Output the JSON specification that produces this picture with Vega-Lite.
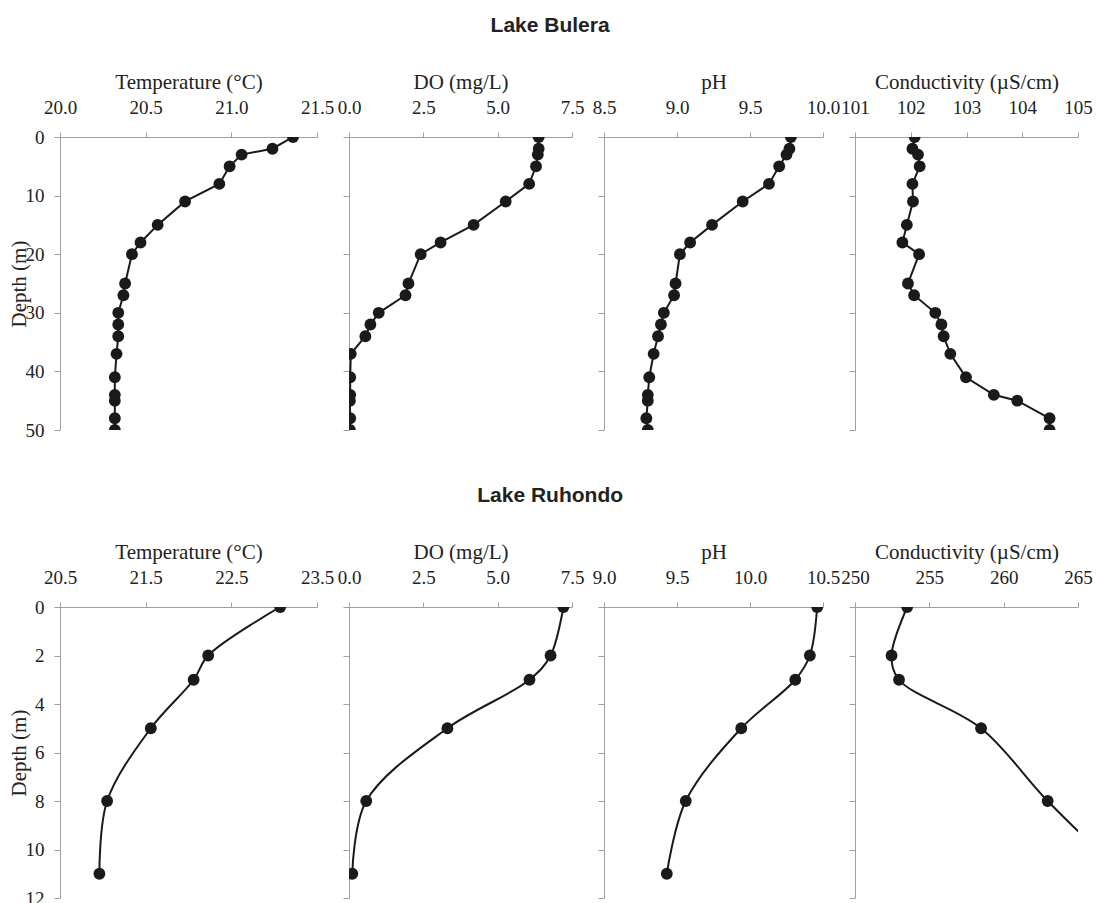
{
  "$schema": "https://vega.github.io/schema/vega-lite/v6.json",
  "background": "white",
  "padding": {"left": 8, "top": 15, "right": 5, "bottom": 5},
  "config": {
    "view": {"stroke": null},
    "font": "Liberation Serif",
    "style": {
      "guide-label": {"font": "Liberation Serif", "fontSize": 19, "fill": "#222222"},
      "guide-title": {"font": "Liberation Serif", "fontSize": 21, "fontWeight": "normal", "fill": "#222222"}
    },
    "axis": {
      "grid": false,
      "domainColor": "#a0a0a0",
      "tickColor": "#a0a0a0",
      "domainWidth": 1,
      "tickWidth": 1,
      "labelFont": "Liberation Serif",
      "labelFontSize": 19,
      "labelColor": "#222222",
      "labelFlush": false,
      "labelOverlap": false,
      "titleFont": "Liberation Serif",
      "titleFontSize": 21,
      "titleFontWeight": "normal",
      "titleColor": "#222222"
    },
    "axisX": {"tickSize": 5, "labelPadding": 15, "titlePadding": 6, "labelFont": "Liberation Serif", "labelFontSize": 19},
    "axisY": {"tickSize": 6, "labelPadding": 10, "titlePadding": -4, "labelFont": "Liberation Serif", "labelFontSize": 19},
    "title": {"font": "Liberation Sans", "fontSize": 21, "fontWeight": "bold", "color": "#222222", "anchor": "middle"}
  },
  "datasets": {
    "bulera": [
      {"depth": 0, "temp": 21.36, "do": 6.38, "ph": 9.78, "cond": 102.07},
      {"depth": 2, "temp": 21.24, "do": 6.38, "ph": 9.77, "cond": 102.03},
      {"depth": 3, "temp": 21.06, "do": 6.35, "ph": 9.75, "cond": 102.13},
      {"depth": 5, "temp": 20.99, "do": 6.29, "ph": 9.70, "cond": 102.16},
      {"depth": 8, "temp": 20.93, "do": 6.06, "ph": 9.63, "cond": 102.03},
      {"depth": 11, "temp": 20.73, "do": 5.27, "ph": 9.45, "cond": 102.04},
      {"depth": 15, "temp": 20.57, "do": 4.19, "ph": 9.24, "cond": 101.93},
      {"depth": 18, "temp": 20.47, "do": 3.08, "ph": 9.09, "cond": 101.85},
      {"depth": 20, "temp": 20.42, "do": 2.41, "ph": 9.02, "cond": 102.15},
      {"depth": 25, "temp": 20.38, "do": 2.00, "ph": 8.99, "cond": 101.95},
      {"depth": 27, "temp": 20.37, "do": 1.90, "ph": 8.98, "cond": 102.06},
      {"depth": 30, "temp": 20.34, "do": 1.00, "ph": 8.91, "cond": 102.44},
      {"depth": 32, "temp": 20.34, "do": 0.72, "ph": 8.89, "cond": 102.55},
      {"depth": 34, "temp": 20.34, "do": 0.55, "ph": 8.87, "cond": 102.59},
      {"depth": 37, "temp": 20.33, "do": 0.06, "ph": 8.84, "cond": 102.71},
      {"depth": 41, "temp": 20.32, "do": 0.04, "ph": 8.81, "cond": 102.99},
      {"depth": 44, "temp": 20.32, "do": 0.04, "ph": 8.80, "cond": 103.49},
      {"depth": 45, "temp": 20.32, "do": 0.03, "ph": 8.80, "cond": 103.91},
      {"depth": 48, "temp": 20.32, "do": 0.04, "ph": 8.79, "cond": 104.49},
      {"depth": 50, "temp": 20.32, "do": 0.03, "ph": 8.80, "cond": 104.49}
    ],
    "ruhondo": [
      {"depth": 0, "temp": 23.07, "do": 7.21, "ph": 10.46, "cond": 253.51},
      {"depth": 2, "temp": 22.23, "do": 6.78, "ph": 10.41, "cond": 252.46},
      {"depth": 3, "temp": 22.06, "do": 6.07, "ph": 10.31, "cond": 252.96},
      {"depth": 5, "temp": 21.56, "do": 3.31, "ph": 9.94, "cond": 258.48},
      {"depth": 8, "temp": 21.05, "do": 0.58, "ph": 9.56, "cond": 262.96},
      {"depth": 11, "temp": 20.96, "do": 0.11, "ph": 9.43, "cond": 268.0}
    ]
  },
  "spacing": 45,
  "vconcat": [
    {
      "title": {"text": "Lake Bulera", "offset": 35},
      "spacing": 32,
      "bounds": "flush",
      "hconcat": [
        {
          "width": 257, "height": 293,
          "data": {"name": "bulera"},
          "encoding": {
            "x": {"field": "temp", "type": "quantitative", "scale": {"domain": [20, 21.5], "nice": false, "zero": false}, "axis": {"orient": "top", "title": "Temperature (°C)", "values": [20, 20.5, 21, 21.5], "format": ".1f"}},
            "y": {"field": "depth", "type": "quantitative", "scale": {"domain": [0, 50], "reverse": true, "nice": false}, "axis": {"values": [0, 10, 20, 30, 40, 50], "title": "Depth (m)"}}
          },
          "layer": [
            {"mark": {"type": "line", "color": "#1a1a1a", "strokeWidth": 2, "clip": true}, "encoding": {"order": {"field": "depth", "type": "quantitative"}}},
            {"mark": {"type": "point", "filled": true, "size": 140, "color": "#1a1a1a", "opacity": 1, "clip": true}}
          ]
        },
        {
          "width": 223, "height": 293,
          "data": {"name": "bulera"},
          "encoding": {
            "x": {"field": "do", "type": "quantitative", "scale": {"domain": [0, 7.5], "nice": false, "zero": false}, "axis": {"orient": "top", "title": "DO (mg/L)", "values": [0, 2.5, 5, 7.5], "format": ".1f"}},
            "y": {"field": "depth", "type": "quantitative", "scale": {"domain": [0, 50], "reverse": true, "nice": false}, "axis": {"values": [0, 10, 20, 30, 40, 50], "labels": false, "title": null}}
          },
          "layer": [
            {"mark": {"type": "line", "color": "#1a1a1a", "strokeWidth": 2, "clip": true}, "encoding": {"order": {"field": "depth", "type": "quantitative"}}},
            {"mark": {"type": "point", "filled": true, "size": 140, "color": "#1a1a1a", "opacity": 1, "clip": true}}
          ]
        },
        {
          "width": 219, "height": 293,
          "data": {"name": "bulera"},
          "encoding": {
            "x": {"field": "ph", "type": "quantitative", "scale": {"domain": [8.5, 10], "nice": false, "zero": false}, "axis": {"orient": "top", "title": "pH", "values": [8.5, 9, 9.5, 10], "format": ".1f"}},
            "y": {"field": "depth", "type": "quantitative", "scale": {"domain": [0, 50], "reverse": true, "nice": false}, "axis": {"values": [0, 10, 20, 30, 40, 50], "labels": false, "title": null}}
          },
          "layer": [
            {"mark": {"type": "line", "color": "#1a1a1a", "strokeWidth": 2, "clip": true}, "encoding": {"order": {"field": "depth", "type": "quantitative"}}},
            {"mark": {"type": "point", "filled": true, "size": 140, "color": "#1a1a1a", "opacity": 1, "clip": true}}
          ]
        },
        {
          "width": 223, "height": 293,
          "data": {"name": "bulera"},
          "encoding": {
            "x": {"field": "cond", "type": "quantitative", "scale": {"domain": [101, 105], "nice": false, "zero": false}, "axis": {"orient": "top", "title": "Conductivity (µS/cm)", "values": [101, 102, 103, 104, 105], "format": "d"}},
            "y": {"field": "depth", "type": "quantitative", "scale": {"domain": [0, 50], "reverse": true, "nice": false}, "axis": {"values": [0, 10, 20, 30, 40, 50], "labels": false, "title": null}}
          },
          "layer": [
            {"mark": {"type": "line", "color": "#1a1a1a", "strokeWidth": 2, "clip": true}, "encoding": {"order": {"field": "depth", "type": "quantitative"}}},
            {"mark": {"type": "point", "filled": true, "size": 140, "color": "#1a1a1a", "opacity": 1, "clip": true}}
          ]
        }
      ]
    },
    {
      "title": {"text": "Lake Ruhondo", "offset": 35},
      "spacing": 32,
      "bounds": "flush",
      "hconcat": [
        {
          "width": 257, "height": 291,
          "data": {"name": "ruhondo"},
          "encoding": {
            "x": {"field": "temp", "type": "quantitative", "scale": {"domain": [20.5, 23.5], "nice": false, "zero": false}, "axis": {"orient": "top", "title": "Temperature (°C)", "values": [20.5, 21.5, 22.5, 23.5], "format": ".1f"}},
            "y": {"field": "depth", "type": "quantitative", "scale": {"domain": [0, 12], "reverse": true, "nice": false}, "axis": {"values": [0, 2, 4, 6, 8, 10, 12], "title": "Depth (m)"}}
          },
          "layer": [
            {"mark": {"type": "line", "color": "#1a1a1a", "strokeWidth": 2, "interpolate": "catmull-rom", "clip": true}, "encoding": {"order": {"field": "depth", "type": "quantitative"}}},
            {"mark": {"type": "point", "filled": true, "size": 140, "color": "#1a1a1a", "opacity": 1, "clip": true}}
          ]
        },
        {
          "width": 223, "height": 291,
          "data": {"name": "ruhondo"},
          "encoding": {
            "x": {"field": "do", "type": "quantitative", "scale": {"domain": [0, 7.5], "nice": false, "zero": false}, "axis": {"orient": "top", "title": "DO (mg/L)", "values": [0, 2.5, 5, 7.5], "format": ".1f"}},
            "y": {"field": "depth", "type": "quantitative", "scale": {"domain": [0, 12], "reverse": true, "nice": false}, "axis": {"values": [0, 2, 4, 6, 8, 10, 12], "labels": false, "title": null}}
          },
          "layer": [
            {"mark": {"type": "line", "color": "#1a1a1a", "strokeWidth": 2, "interpolate": "catmull-rom", "clip": true}, "encoding": {"order": {"field": "depth", "type": "quantitative"}}},
            {"mark": {"type": "point", "filled": true, "size": 140, "color": "#1a1a1a", "opacity": 1, "clip": true}}
          ]
        },
        {
          "width": 219, "height": 291,
          "data": {"name": "ruhondo"},
          "encoding": {
            "x": {"field": "ph", "type": "quantitative", "scale": {"domain": [9, 10.5], "nice": false, "zero": false}, "axis": {"orient": "top", "title": "pH", "values": [9, 9.5, 10, 10.5], "format": ".1f"}},
            "y": {"field": "depth", "type": "quantitative", "scale": {"domain": [0, 12], "reverse": true, "nice": false}, "axis": {"values": [0, 2, 4, 6, 8, 10, 12], "labels": false, "title": null}}
          },
          "layer": [
            {"mark": {"type": "line", "color": "#1a1a1a", "strokeWidth": 2, "interpolate": "catmull-rom", "clip": true}, "encoding": {"order": {"field": "depth", "type": "quantitative"}}},
            {"mark": {"type": "point", "filled": true, "size": 140, "color": "#1a1a1a", "opacity": 1, "clip": true}}
          ]
        },
        {
          "width": 223, "height": 291,
          "data": {"name": "ruhondo"},
          "encoding": {
            "x": {"field": "cond", "type": "quantitative", "scale": {"domain": [250, 265], "nice": false, "zero": false}, "axis": {"orient": "top", "title": "Conductivity (µS/cm)", "values": [250, 255, 260, 265], "format": "d"}},
            "y": {"field": "depth", "type": "quantitative", "scale": {"domain": [0, 12], "reverse": true, "nice": false}, "axis": {"values": [0, 2, 4, 6, 8, 10, 12], "labels": false, "title": null}}
          },
          "layer": [
            {"mark": {"type": "line", "color": "#1a1a1a", "strokeWidth": 2, "interpolate": "catmull-rom", "clip": true}, "encoding": {"order": {"field": "depth", "type": "quantitative"}}},
            {"mark": {"type": "point", "filled": true, "size": 140, "color": "#1a1a1a", "opacity": 1, "clip": true}}
          ]
        }
      ]
    }
  ]
}
